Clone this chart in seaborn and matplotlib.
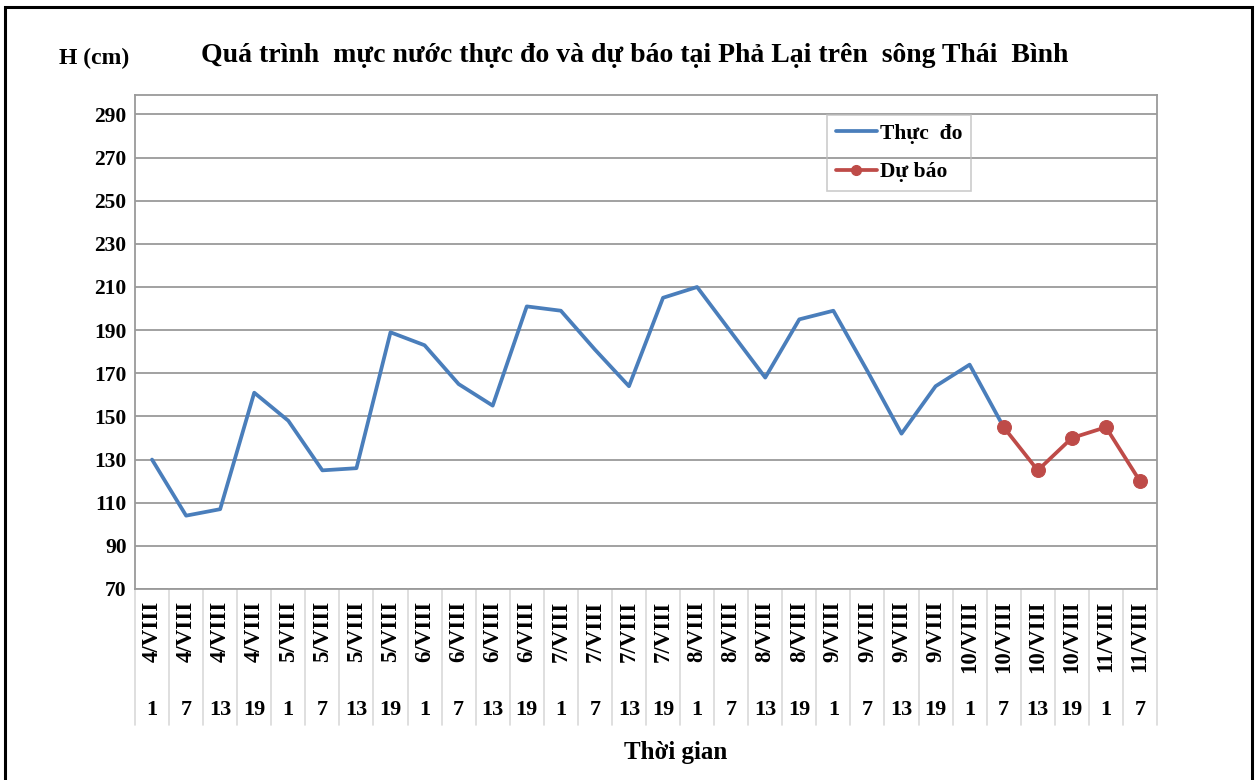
import numpy as np
import pandas as pd
import matplotlib
matplotlib.use("Agg")
import matplotlib.pyplot as plt
import seaborn as sns
from matplotlib.patches import Rectangle
from matplotlib.lines import Line2D
import matplotlib.transforms as mtransforms

# data
days = ["4/VIII"] * 4 + ["5/VIII"] * 4 + ["6/VIII"] * 4 + ["7/VIII"] * 4 + \
       ["8/VIII"] * 4 + ["9/VIII"] * 4 + ["10/VIII"] * 4 + ["11/VIII"] * 2
hours = [1, 7, 13, 19] * 7 + [1, 7]
observed = [130, 104, 107, 161, 148, 125, 126, 189, 183, 165, 155, 201, 199, 181, 164,
            205, 210, 189, 168, 195, 199, 171, 142, 164, 174, 145,
            None, None, None, None]
forecast = [None] * 25 + [145, 125, 140, 145, 120]
y_ticks = list(range(70, 300, 20))

df = pd.DataFrame({
    "pos": np.arange(len(days)),
    "Thực  đo": pd.array(observed, dtype="Float64"),
    "Dự báo": pd.array(forecast, dtype="Float64"),
})

sns.set_style("white")
plt.rcParams['font.family'] = ['Liberation Serif', 'DejaVu Serif']
plt.rcParams['font.weight'] = 'bold'
plt.rcParams['text.color'] = 'black'
plt.rcParams['ytick.color'] = 'black'

blue = "#4A7EBB"
red = "#BE4B48"
grid = "#9A9A9A"

fig = plt.figure(figsize=(12.59, 7.8), dpi=100)
ax = fig.add_axes([135 / 1259, 1 - 589 / 780, 1022 / 1259, 494 / 780])

sns.lineplot(data=df, x="pos", y="Thực  đo", ax=ax, color=blue, linewidth=2.7)
sns.lineplot(data=df, x="pos", y="Dự báo", ax=ax, color=red, linewidth=2.7,
             marker="o", markersize=10, markeredgecolor=red)

ax.set_xlim(-0.5, len(days) - 0.5)
ax.set_ylim(70, 299)
ax.set_yticks(y_ticks)
ax.set_yticklabels([str(v) for v in y_ticks], fontsize=15.5, fontweight="bold")
ax.tick_params(axis="y", length=0, pad=6, labelcolor="black")
ax.set_xticks([])
ax.set_xlabel("")
ax.set_ylabel("")
ax.grid(axis="y", color=grid, linewidth=1.3)
ax.set_axisbelow(True)
for s in ax.spines.values():
    s.set_color(grid)
    s.set_linewidth(1.3)

# two-level category axis
trans = mtransforms.blended_transform_factory(ax.transData, ax.transAxes)
for i, (d, h) in enumerate(zip(days, hours)):
    ax.text(i, -0.024, d, transform=trans, rotation=90, ha="center", va="top",
            fontsize=16.5, fontweight="bold")
    ax.text(i, -0.245, str(h), transform=trans, ha="center", va="center",
            fontsize=16, fontweight="bold")
for b in np.arange(-0.5, len(days), 1.0):
    ax.plot([b, b], [0, -0.275], transform=trans, color="#D9D9D9",
            linewidth=1.2, clip_on=False)

handles = [Line2D([], [], color=blue, linewidth=2.7),
           Line2D([], [], color=red, linewidth=2.7, marker="o", markersize=7)]
leg = ax.legend(handles, ["Thực  đo", "Dự báo"], loc="upper left",
                bbox_to_anchor=((827 - 135) / 1022, (589 - 115) / 494),
                borderaxespad=0, frameon=True, fancybox=False,
                handlelength=1.9, handletextpad=0.15, borderpad=0.4,
                labelspacing=0.85, prop={"size": 15.5, "weight": "bold"})
leg.get_frame().set_facecolor("none")
leg.get_frame().set_edgecolor("#BFBFBF")
leg.get_frame().set_linewidth(1.2)

fig.text(635 / 1259, 1 - 55 / 780, "Quá trình  mực nước thực đo và dự báo tại Phả Lại trên  sông Thái  Bình",
         ha="center", va="center", fontsize=20, fontweight="bold")
fig.text(94 / 1259, 1 - 58 / 780, "H (cm)", ha="center", va="center",
         fontsize=17, fontweight="bold")
fig.text(676 / 1259, 1 - 753 / 780, "Thời gian", ha="center", va="center",
         fontsize=18, fontweight="bold")

fig.patches.append(Rectangle((5 / 1259, -0.05), 1247 / 1259, 1.05 - 7 / 780,
                             transform=fig.transFigure, fill=False,
                             edgecolor="black", linewidth=2.2))

fig.savefig("out.png", dpi=100)
